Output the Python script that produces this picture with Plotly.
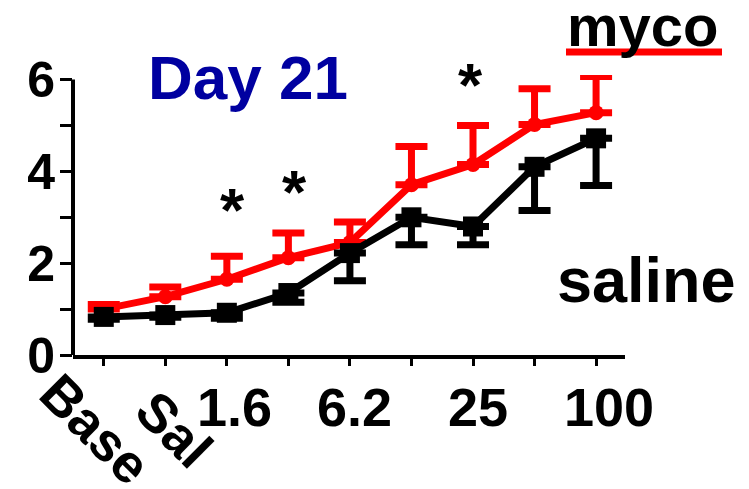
import plotly.graph_objects as go

categories = ["Base", "Sal", "1.6", "3.1", "6.2", "12.5", "25", "50", "100"]
tick_labels = ["Base", "Sal", "1.6", "", "6.2", "", "25", "", "100"]
myco_mean = [1.0, 1.27, 1.65, 2.12, 2.45, 3.71, 4.15, 5.02, 5.28]
myco_err = [0.1, 0.21, 0.5, 0.54, 0.45, 0.83, 0.85, 0.78, 0.79]
saline_mean = [0.83, 0.87, 0.92, 1.35, 2.22, 3.0, 2.8, 4.1, 4.72]
saline_err = [0.05, 0.05, 0.12, 0.2, 0.6, 0.6, 0.4, 0.95, 1.03]
sig_index = [2, 3, 6]
sig_y = [3.17, 3.56, 5.9]
y_ticks = [0, 1, 2, 3, 4, 5, 6]
y_tick_text = ["0", "", "2", "", "4", "", "6"]

FONT = "Arial, Liberation Sans, sans-serif"
xs = list(range(len(categories)))
Y_MAX = 6.1

# the page body adds an 8px offset; the figure is sized to fill the rest
OFF = 8
W, H = 749 - OFF, 489 - OFF
L, T = 73 - OFF, 75 - OFF
BOTTOM_PX = 355 - OFF
RIGHT_PX = 625 - OFF
PLOT_W = RIGHT_PX - L
PLOT_H = BOTTOM_PX - T


def py(pixel):
    """paper y from a reference pixel row"""
    return (355 - pixel) / PLOT_H


def px(pixel):
    """paper x from a reference pixel column"""
    return (pixel - 73) / PLOT_W


fig = go.Figure()
fig.add_trace(go.Scatter(
    x=xs, y=myco_mean, mode="lines+markers", name="myco",
    line=dict(color="#ff0000", width=7),
    marker=dict(symbol="circle", size=15, color="#ff0000"),
    error_y=dict(type="data", symmetric=False, array=myco_err,
                 arrayminus=[0] * len(myco_err), color="#ff0000",
                 thickness=7, width=16),
    cliponaxis=False,
))
fig.add_trace(go.Scatter(
    x=xs, y=saline_mean, mode="lines+markers", name="saline",
    line=dict(color="#000000", width=7),
    marker=dict(symbol="square", size=20, color="#000000"),
    error_y=dict(type="data", symmetric=False, array=[0] * len(saline_err),
                 arrayminus=saline_err, color="#000000",
                 thickness=7, width=16),
    cliponaxis=False,
))

label_shift = [-8, 9, 8, 0, 5, 0, 5, 0, 13]
annotations = []
for i, lab in enumerate(tick_labels):
    if not lab:
        continue
    if i < 2:
        annotations.append(dict(
            x=i, y=py(429), xref="x", yref="paper", text=lab, showarrow=False,
            textangle=45, xanchor="center", yanchor="middle",
            xshift=label_shift[i],
            font=dict(family=FONT, size=54, color="black", weight="bold")))
    else:
        annotations.append(dict(
            x=i, y=py(407), xref="x", yref="paper", text=lab, showarrow=False,
            xanchor="center", yanchor="middle", xshift=label_shift[i],
            font=dict(family=FONT, size=54, color="black", weight="bold")))
for i, yv in zip(sig_index, sig_y):
    annotations.append(dict(
        x=i, y=yv / Y_MAX, xref="x", yref="paper", text="*", showarrow=False,
        xanchor="center", yanchor="middle", xshift=(6 if i < 4 else -3),
        font=dict(family=FONT, size=62, color="black", weight="bold")))
annotations.append(dict(
    x=px(248), y=py(77), xref="paper", yref="paper",
    text="Day 21", showarrow=False, xanchor="center", yanchor="middle",
    font=dict(family=FONT, size=62, color="#0000a0", weight="bold")))
annotations.append(dict(
    x=px(643), y=py(26), xref="paper", yref="paper",
    text="myco", showarrow=False, xanchor="center", yanchor="middle",
    font=dict(family=FONT, size=58, color="black", weight="bold")))
annotations.append(dict(
    x=px(646), y=py(280), xref="paper", yref="paper",
    text="saline", showarrow=False, xanchor="center", yanchor="middle",
    font=dict(family=FONT, size=63, color="black", weight="bold")))

shapes = [
    dict(type="line", xref="paper", yref="paper",
         x0=px(566), x1=px(722), y0=py(52), y1=py(52),
         line=dict(color="#ff0000", width=7)),
    dict(type="line", xref="paper", yref="y",
         x0=0, x1=0, y0=0, y1=6,
         line=dict(color="black", width=4)),
]

fig.update_layout(
    width=W, height=H,
    margin=dict(l=L, r=W - RIGHT_PX, t=T, b=H - BOTTOM_PX, autoexpand=False),
    paper_bgcolor="white", plot_bgcolor="white",
    showlegend=False,
    annotations=annotations, shapes=shapes,
    xaxis=dict(
        range=[-0.5, 8.47], tickvals=xs, ticktext=[""] * len(xs),
        automargin=False,
        showgrid=False, zeroline=False, showline=True,
        linecolor="black", linewidth=4,
        ticks="outside", ticklen=7, tickwidth=3, tickcolor="black"),
    yaxis=dict(
        range=[0, Y_MAX], tickvals=y_ticks, ticktext=y_tick_text,
        automargin=False,
        showgrid=False, zeroline=False, showline=False,
        ticks="outside", ticklen=12, tickwidth=3, tickcolor="black",
        ticklabelstandoff=-5,
        tickfont=dict(family=FONT, size=50, color="black", weight="bold")),
)

fig.write_html("out.html")
